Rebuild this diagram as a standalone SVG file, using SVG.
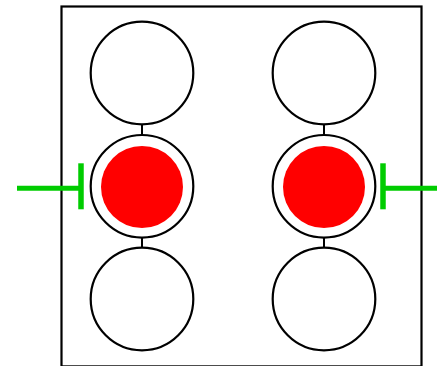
<svg xmlns="http://www.w3.org/2000/svg" width="437" height="366" viewBox="0 0 437 366">
  <defs>
    <style>
      .frame { fill: #ffffff; stroke: #000000; stroke-width: 2.2; }
      .node { fill: #ffffff; stroke: #000000; stroke-width: 2.2; }
      .core { fill: #ff0000; stroke: none; }
      .link { stroke: #000000; stroke-width: 2; fill: none; }
      .inhibit { stroke: #00cc00; stroke-width: 5; fill: none; }
      .bar { stroke: #00cc00; stroke-width: 5.5; fill: none; }
    </style>
  </defs>

  <rect class="frame" x="61.5" y="6.5" width="360" height="359.9"/>

  <!-- short links between stacked circles -->
  <g id="connectors">
    <line class="link" x1="142" y1="124" x2="142" y2="135"/>
    <line class="link" x1="142" y1="237" x2="142" y2="248"/>
    <line class="link" x1="324" y1="124" x2="324" y2="135"/>
    <line class="link" x1="324" y1="237" x2="324" y2="248"/>
    <!-- inhibition edges ending in a flat bar -->
    <line class="inhibit" x1="17" y1="188.3" x2="81" y2="188.3"/>
    <line class="bar" x1="81" y1="163.3" x2="81" y2="209.3"/>
    <line class="inhibit" x1="437" y1="188.3" x2="383" y2="188.3"/>
    <line class="bar" x1="383" y1="163.3" x2="383" y2="209.3"/>
  </g>

  <g id="left-top"><circle class="node" cx="142" cy="73" r="51.3"/></g>
  <g id="left-mid">
    <circle class="node" cx="142" cy="186.3" r="51.3"/>
    <circle class="core" cx="142" cy="187" r="41"/>
  </g>
  <g id="left-bottom"><circle class="node" cx="142" cy="299" r="51.3"/></g>

  <g id="right-top"><circle class="node" cx="324" cy="73" r="51.3"/></g>
  <g id="right-mid">
    <circle class="node" cx="324" cy="186.3" r="51.3"/>
    <circle class="core" cx="324" cy="187" r="41"/>
  </g>
  <g id="right-bottom"><circle class="node" cx="324" cy="299" r="51.3"/></g>
</svg>
